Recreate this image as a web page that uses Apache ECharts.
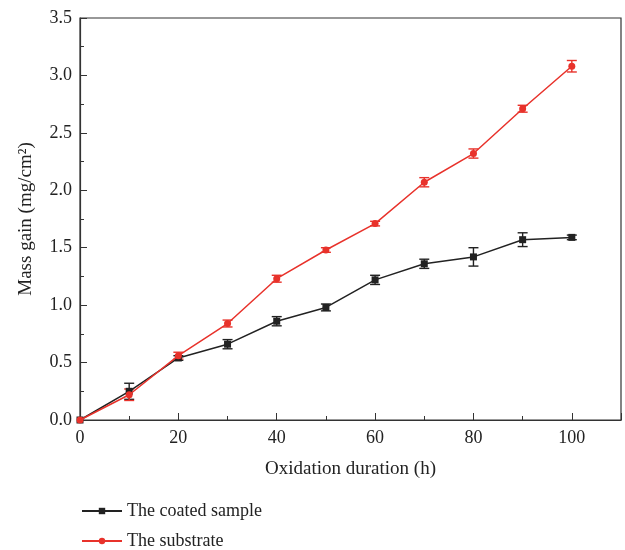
<!DOCTYPE html>
<html><head><meta charset="utf-8">
<script src="https://cdn.jsdelivr.net/npm/echarts@6/dist/echarts.min.js"></script>
<style>html,body{margin:0;padding:0;background:#fff}#c{width:625px;height:550px}</style>
</head><body><div id="c"></div>
<script>
var hours = [0, 10, 20, 30, 40, 50, 60, 70, 80, 90, 100];
var coated = [0, 0.25, 0.54, 0.66, 0.86, 0.98, 1.22, 1.36, 1.42, 1.57, 1.59];
var coatedErr = [0, 0.07, 0.02, 0.04, 0.04, 0.03, 0.04, 0.04, 0.08, 0.06, 0.02];
var substrate = [0, 0.22, 0.56, 0.84, 1.23, 1.48, 1.71, 2.07, 2.32, 2.71, 3.08];
var substrateErr = [0, 0.05, 0.03, 0.03, 0.03, 0.02, 0.02, 0.04, 0.04, 0.03, 0.05];
var names = ['The coated sample', 'The substrate'];
var colors = ['#222222', '#e8322b'];
var font = 'Liberation Serif';

function pts(y){ return hours.map(function(h,i){return [h, y[i]];}); }
function errData(y, e){ return hours.map(function(h,i){return [h, y[i]-e[i], y[i]+e[i]];}).filter(function(d,i){return e[i]>0;}); }
function errSeries(y, e, color){
  return {
    type:'custom', silent:true, z:1,
    data: errData(y,e),
    renderItem: function(params, api){
      var lo = api.coord([api.value(0), api.value(1)]);
      var hi = api.coord([api.value(0), api.value(2)]);
      var w = 5;
      var st = {stroke: color, lineWidth: 1.4};
      return {type:'group', children:[
        {type:'line', shape:{x1:lo[0],y1:lo[1],x2:hi[0],y2:hi[1]}, style:st},
        {type:'line', shape:{x1:lo[0]-w,y1:lo[1],x2:lo[0]+w,y2:lo[1]}, style:st},
        {type:'line', shape:{x1:hi[0]-w,y1:hi[1],x2:hi[0]+w,y2:hi[1]}, style:st}
      ]};
    }
  };
}

var chart = echarts.init(document.getElementById('c'));
chart.setOption({
  animation:false,
  textStyle:{fontFamily:font},
  grid:{left:80, right:4, top:18, bottom:130, show:true, borderColor:'#333', borderWidth:1.2},
  legend:{
    orient:'vertical', left:76, top:497, height:60, itemGap:12, itemWidth:40, itemHeight:8,
    textStyle:{fontFamily:font, fontSize:18, lineHeight:18, color:'#222'},
    data:names
  },
  xAxis:{
    type:'value', min:0, max:110, interval:20,
    name:'Oxidation duration (h)', nameLocation:'middle', nameGap:40,
    nameTextStyle:{fontFamily:font, fontSize:19, color:'#222'},
    axisLine:{lineStyle:{color:'#333', width:1.2}},
    axisTick:{inside:true, length:7, lineStyle:{color:'#333'}},
    minorTick:{show:true, splitNumber:2, length:4, lineStyle:{color:'#333'}},
    splitLine:{show:false},
    axisLabel:{fontFamily:font, fontSize:18, color:'#222', margin:9,
      formatter:function(v){return v>100?'':String(v);}}
  },
  yAxis:{
    type:'value', min:0, max:3.5, interval:0.5,
    name:'Mass gain (mg/cm²)', nameLocation:'middle', nameGap:44,
    nameTextStyle:{fontFamily:font, fontSize:19, color:'#222'},
    axisLine:{show:true, lineStyle:{color:'#333', width:1.2}},
    axisTick:{show:true, inside:true, length:7, lineStyle:{color:'#333'}},
    minorTick:{show:true, splitNumber:2, length:4, lineStyle:{color:'#333'}},
    splitLine:{show:false},
    axisLabel:{fontFamily:font, fontSize:18, color:'#222', margin:8,
      formatter:function(v){return v.toFixed(1);}}
  },
  series:[
    errSeries(coated, coatedErr, colors[0]),
    errSeries(substrate, substrateErr, colors[1]),
    {name:names[0], type:'line', data:pts(coated), symbol:'rect', symbolSize:7,
     itemStyle:{color:colors[0]}, lineStyle:{color:colors[0], width:1.5}, z:3},
    {name:names[1], type:'line', data:pts(substrate), symbol:'circle', symbolSize:7,
     itemStyle:{color:colors[1]}, lineStyle:{color:colors[1], width:1.5}, z:4}
  ]
});
</script></body></html>
